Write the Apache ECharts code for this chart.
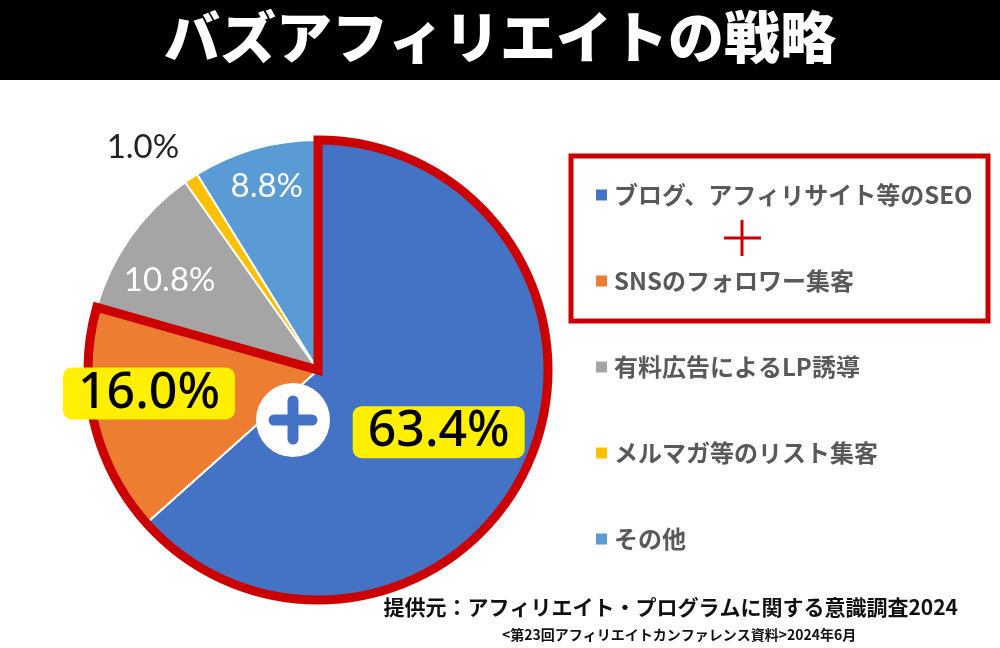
<!DOCTYPE html>
<html>
<head>
<meta charset="utf-8">
<script src="https://cdn.jsdelivr.net/npm/echarts@6/dist/echarts.min.js"></script>
<style>
html, body { margin: 0; padding: 0; background: #fff; }
#container { width: 1000px; height: 648px; }
</style>
</head>
<body>
<div id="container"></div>
<script>
// データ
var categories = ['ブログ、アフィリサイト等のSEO', 'SNSのフォロワー集客', '有料広告によるLP誘導', 'メルマガ等のリスト集客', 'その他'];
var values = [63.4, 16.0, 10.8, 1.0, 8.8];
var colors = ['#4472C4', '#ED7D31', '#A5A5A5', '#FFC000', '#5B9BD5'];

var center = [318, 370];
var radius = 230;
var red = '#CC0000';
var cjk = '"Noto Sans CJK JP", "Noto Sans", sans-serif';

// ラベルの見た目（強調する2つは黄色の箱）
var labelStyles = [
    { offset: [13, 14], color: '#000', fontSize: 50, fontWeight: 500, fontFamily: '"Noto Sans", sans-serif',
      backgroundColor: '#FFEF00', borderRadius: 9, padding: [1, 15, 1, 15] },
    { offset: [-54, -3], color: '#000', fontSize: 50, fontWeight: 500, fontFamily: '"Noto Sans", sans-serif',
      backgroundColor: '#FFEF00', borderRadius: 9, padding: [1, 15, 1, 15] },
    { offset: [-52, -21], color: '#fff', fontSize: 33, fontFamily: 'Lato, sans-serif' },
    { offset: [-110, -124], color: '#222', fontSize: 33, fontFamily: 'Lato, sans-serif' },
    { offset: [-19, -70], color: '#fff', fontSize: 33, fontFamily: 'Lato, sans-serif' }
];

var pieData = categories.map(function (name, i) {
    return { name: name, value: values[i], itemStyle: { color: colors[i] } };
});

var labelData = categories.map(function (name, i) {
    var s = labelStyles[i];
    return {
        name: name,
        value: values[i],
        label: Object.assign({ show: true, position: 'inside' }, s)
    };
});

// 赤枠は上位2つの合計
var topTwo = values[0] + values[1];
var outlineData = [
    { name: 'outline', value: topTwo,
      itemStyle: { color: 'rgba(0,0,0,0)', borderColor: red, borderWidth: 9, borderJoin: 'miter' } },
    { name: 'rest', value: 100 - topTwo,
      itemStyle: { color: 'rgba(0,0,0,0)', borderWidth: 0 } }
];

var myChart = echarts.init(document.getElementById('container'));
option = {
    backgroundColor: '#fff',
    animation: false,
    title: [
        {
            text: 'バズアフィリエイトの戦略',
            left: 'center',
            top: 4,
            textStyle: { color: '#fff', fontSize: 56, fontWeight: 900, fontFamily: cjk }
        },
        {
            text: '提供元：アフィリエイト・プログラムに関する意識調査2024',
            right: 37,
            top: 592,
            textStyle: { color: '#111', fontSize: 21, fontWeight: 'bold', fontFamily: cjk }
        },
        {
            text: '<第23回アフィリエイトカンファレンス資料>2024年6月',
            left: 497,
            top: 623,
            textStyle: { color: '#111', fontSize: 14, fontWeight: 'bold', fontFamily: cjk }
        }
    ],
    legend: {
        orient: 'vertical',
        left: 591,
        top: 175,
        itemGap: 56,
        itemWidth: 11,
        itemHeight: 11,
        icon: 'rect',
        data: categories,
        itemStyle: { borderWidth: 0 },
        textStyle: { color: '#595959', fontSize: 24, fontWeight: 'bold', lineHeight: 30, fontFamily: cjk, padding: [0, 0, 0, 2] },
        selectedMode: false
    },
    graphic: [
        { type: 'rect', left: 0, top: 0, z: -1, shape: { width: 1000, height: 80 }, style: { fill: '#000' } },
        { type: 'rect', z: 10, shape: { x: 571, y: 156, width: 417, height: 165 },
          style: { fill: 'none', stroke: red, lineWidth: 5 } },
        { type: 'line', z: 10, shape: { x1: 724, y1: 238, x2: 761, y2: 238 }, style: { stroke: red, lineWidth: 3 } },
        { type: 'line', z: 10, shape: { x1: 742, y1: 220, x2: 742, y2: 256 }, style: { stroke: red, lineWidth: 3 } },
        { type: 'circle', z: 20, shape: { cx: 293, cy: 420, r: 37 }, style: { fill: '#fff' } },
        { type: 'line', z: 21, shape: { x1: 274, y1: 420, x2: 312, y2: 420 },
          style: { stroke: '#4472C4', lineWidth: 11, lineCap: 'round' } },
        { type: 'line', z: 21, shape: { x1: 293, y1: 401, x2: 293, y2: 439 },
          style: { stroke: '#4472C4', lineWidth: 11, lineCap: 'round' } }
    ],
    series: [
        {
            type: 'pie',
            name: 'main',
            center: center,
            radius: radius,
            startAngle: 90,
            clockwise: true,
            silent: true,
            label: { show: false },
            labelLine: { show: false },
            itemStyle: { borderColor: '#fff', borderWidth: 2 },
            data: pieData
        },
        {
            type: 'pie',
            name: 'outline',
            center: center,
            radius: radius,
            startAngle: 90,
            silent: true,
            z: 3,
            label: { show: false },
            labelLine: { show: false },
            legendHoverLink: false,
            data: outlineData
        },
        {
            type: 'pie',
            name: 'labels',
            center: center,
            radius: radius,
            startAngle: 90,
            silent: true,
            z: 4,
            labelLine: { show: false },
            itemStyle: { color: 'rgba(0,0,0,0)', borderWidth: 0 },
            label: {
                formatter: function (p) { return p.value.toFixed(1) + '%'; }
            },
            data: labelData
        }
    ]
};

myChart.setOption(option);
</script>
</body>
</html>
